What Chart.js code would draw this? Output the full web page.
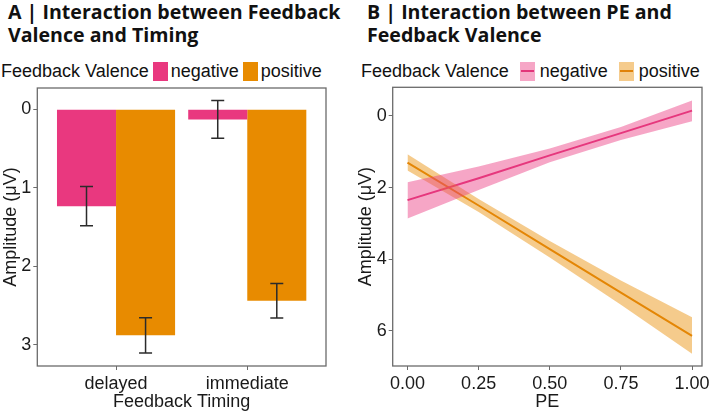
<!DOCTYPE html>
<html>
<head>
<meta charset="utf-8">
<script src="https://cdn.jsdelivr.net/npm/chart.js@4.4.1/dist/chart.umd.min.js"></script>
<style>
  body { margin: 0; background: #fff; }
  #page { position: relative; width: 709px; height: 414px; overflow: hidden; font-family: "Liberation Sans", Arial, sans-serif; }
  .title { position: absolute; top: 0; font-family: "Open Sans", sans-serif; font-weight: 700; font-size: 19.6px; line-height: 23px; color: #111; white-space: nowrap; }
  .legend { position: absolute; top: 60px; height: 22px; display: flex; align-items: center; font-size: 18px; color: #111; white-space: nowrap; }
  .key { display: inline-block; width: 15px; height: 19px; position: relative; }
  .key i { position: absolute; left: 1px; right: 1px; top: 8.5px; height: 2px; }
  .box { position: absolute; top: 80px; }
</style>
</head>
<body>
<div id="page">
  <div class="title" id="titleA" style="left:8px"></div>
  <div class="title" id="titleB" style="left:367px"></div>
  <div class="legend" id="legendA" style="left:1px"></div>
  <div class="legend" id="legendB" style="left:361px"></div>
  <div class="box" style="left:0"><canvas id="chartA" width="354" height="334"></canvas></div>
  <div class="box" style="left:355px"><canvas id="chartB" width="354" height="334"></canvas></div>
</div>
<script>
// panel A: mean amplitude per timing x valence
const timingLabels = ['delayed', 'immediate'];
const valenceLabels = ['negative', 'positive'];
const negAmp = [1.235, 0.13];
const posAmp = [2.88, 2.44];
const negErr = [0.25, 0.24];
const posErr = [0.225, 0.22];
const ampTicksA = [0, 1, 2, 3];

// panel B: fitted amplitude over PE with confidence band
const peValues = [0, 0.25, 0.5, 0.75, 1];
const negFit = [2.35, 1.74, 1.1, 0.48, -0.15];
const negLow = [1.85, 1.41, 0.91, 0.31, -0.43];
const negHigh = [2.86, 2.07, 1.29, 0.67, 0.15];
const posFit = [1.3, 2.5, 3.72, 4.93, 6.14];
const posLow = [1.07, 2.32, 3.49, 4.59, 5.62];
const posHigh = [1.52, 2.68, 3.95, 5.27, 6.64];
const peTicks = [0, 0.25, 0.5, 0.75, 1];
const ampTicksB = [0, 2, 4, 6];

const titleA = ['A | Interaction between Feedback', 'Valence and Timing'];
const titleB = ['B | Interaction between PE and', 'Feedback Valence'];
const legendTitle = 'Feedback Valence';

const pink = '#E9387F';
const orange = '#E88B00';
const pinkLine = '#E2357A';
const orangeLine = '#E0820A';
const pinkBand = 'rgba(234, 58, 128, 0.45)';
const orangeBand = 'rgba(232, 139, 0, 0.45)';

Chart.defaults.font.family = '"Liberation Sans", Arial, sans-serif';
Chart.defaults.font.size = 18;
Chart.defaults.color = '#1a1a1a';

document.getElementById('titleA').innerHTML = titleA.join('<br>');
document.getElementById('titleB').innerHTML = titleB.join('<br>');

function buildLegend(id, fills, lines, gaps) {
    const el = document.getElementById(id);
    const head = document.createElement('span');
    head.textContent = legendTitle;
    el.appendChild(head);
    valenceLabels.forEach((label, i) => {
        const key = document.createElement('span');
        key.className = 'key';
        key.style.background = fills[i];
        key.style.marginLeft = gaps[0] + 'px';
        if (lines) {
            const bar = document.createElement('i');
            bar.style.background = lines[i];
            key.appendChild(bar);
        }
        el.appendChild(key);
        const txt = document.createElement('span');
        txt.textContent = label;
        txt.style.marginLeft = gaps[1] + 'px';
        el.appendChild(txt);
    });
}
buildLegend('legendA', [pink, orange], null, [4, 3]);
buildLegend('legendB', ['#F6A6C6', '#F5CB8C'], [pinkLine, orangeLine], [11, 5]);

// grey box around the plotting area
const panelFrame = {
    id: 'panelFrame',
    afterDraw(chart) {
        const {ctx, chartArea: a} = chart;
        ctx.save();
        ctx.strokeStyle = '#6b6b6b';
        ctx.lineWidth = 1.3;
        ctx.strokeRect(a.left, a.top, a.right - a.left, a.bottom - a.top);
        ctx.restore();
    }
};

const errorBars = {
    id: 'errorBars',
    afterDatasetsDraw(chart) {
        const {ctx, scales: {y}} = chart;
        ctx.save();
        ctx.strokeStyle = '#2b2b2b';
        ctx.lineWidth = 1.5;
        chart.data.datasets.forEach((ds, di) => {
            chart.getDatasetMeta(di).data.forEach((bar, i) => {
                const v = ds.data[i].y;
                const e = ds.errors[i];
                const top = y.getPixelForValue(v - e);
                const bot = y.getPixelForValue(v + e);
                ctx.beginPath();
                ctx.moveTo(bar.x, top); ctx.lineTo(bar.x, bot);
                ctx.moveTo(bar.x - 6.5, top); ctx.lineTo(bar.x + 6.5, top);
                ctx.moveTo(bar.x - 6.5, bot); ctx.lineTo(bar.x + 6.5, bot);
                ctx.stroke();
            });
        });
        ctx.restore();
    }
};

const tickGrid = { drawOnChartArea: false, drawTicks: true, tickLength: 4, color: '#6b6b6b', offset: false };

function fixedTicks(list) {
    return (scale) => { scale.ticks = list.map(v => ({ value: v })); };
}

new Chart(document.getElementById('chartA'), {
    type: 'bar',
    data: {
        datasets: [{
            label: valenceLabels[0],
            data: negAmp.map((v, i) => ({ x: i + 1, y: v })),
            errors: negErr,
            backgroundColor: pink
        }, {
            label: valenceLabels[1],
            data: posAmp.map((v, i) => ({ x: i + 1, y: v })),
            errors: posErr,
            backgroundColor: orange
        }]
    },
    options: {
        responsive: false,
        animation: false,
        categoryPercentage: 0.9,
        barPercentage: 1,
        layout: { padding: { top: 8, right: 28, left: 0, bottom: 0 } },
        scales: {
            x: {
                type: 'linear',
                min: 0.4,
                max: 2.6,
                offset: false,
                grid: tickGrid,
                border: { display: false },
                afterBuildTicks: fixedTicks([1, 2]),
                ticks: { callback: v => timingLabels[v - 1], padding: 3 },
                title: { display: true, text: 'Feedback Timing', padding: { top: 0, bottom: 1 } },
                afterFit: s => { s.height = 48; s.paddingLeft = 0; s.paddingRight = 0; }
            },
            y: {
                reverse: true,
                min: -0.27,
                max: 3.27,
                grid: tickGrid,
                border: { display: false },
                afterBuildTicks: fixedTicks(ampTicksA),
                ticks: { padding: 2 },
                title: { display: true, text: 'Amplitude (μV)', padding: { top: 0, bottom: 0 } },
                afterFit: s => { s.width = 37.3; s.paddingTop = 0; s.paddingBottom = 0; }
            }
        },
        plugins: { legend: { display: false }, tooltip: { enabled: false } }
    },
    plugins: [errorBars, panelFrame]
});

const pts = arr => arr.map((v, i) => ({ x: peValues[i], y: v }));

new Chart(document.getElementById('chartB'), {
    type: 'line',
    data: {
        datasets: [
            { data: pts(negLow), borderWidth: 0, pointRadius: 0, fill: false },
            { data: pts(negHigh), borderWidth: 0, pointRadius: 0, fill: '-1', backgroundColor: pinkBand },
            { data: pts(posLow), borderWidth: 0, pointRadius: 0, fill: false },
            { data: pts(posHigh), borderWidth: 0, pointRadius: 0, fill: '-1', backgroundColor: orangeBand },
            { label: valenceLabels[0], data: pts(negFit), borderColor: pinkLine, borderWidth: 2, pointRadius: 0, fill: false },
            { label: valenceLabels[1], data: pts(posFit), borderColor: orangeLine, borderWidth: 2, pointRadius: 0, fill: false }
        ]
    },
    options: {
        responsive: false,
        animation: false,
        layout: { padding: { top: 7.3, right: 7, left: 0, bottom: 0 } },
        scales: {
            x: {
                type: 'linear',
                min: -0.052,
                max: 1.035,
                grid: tickGrid,
                border: { display: false },
                afterBuildTicks: fixedTicks(peTicks),
                ticks: { callback: v => v.toFixed(2), padding: 3 },
                title: { display: true, text: 'PE', padding: { top: 0, bottom: 1 } },
                afterFit: s => { s.height = 48; s.paddingLeft = 0; s.paddingRight = 0; }
            },
            y: {
                reverse: true,
                min: -0.8,
                max: 6.98,
                grid: tickGrid,
                border: { display: false },
                afterBuildTicks: fixedTicks(ampTicksB),
                ticks: { padding: 2 },
                title: { display: true, text: 'Amplitude (μV)', padding: { top: 0, bottom: 0 } },
                afterFit: s => { s.width = 37.7; s.paddingTop = 0; s.paddingBottom = 0; }
            }
        },
        plugins: { legend: { display: false }, tooltip: { enabled: false } }
    },
    plugins: [panelFrame]
});
</script>
</body>
</html>
